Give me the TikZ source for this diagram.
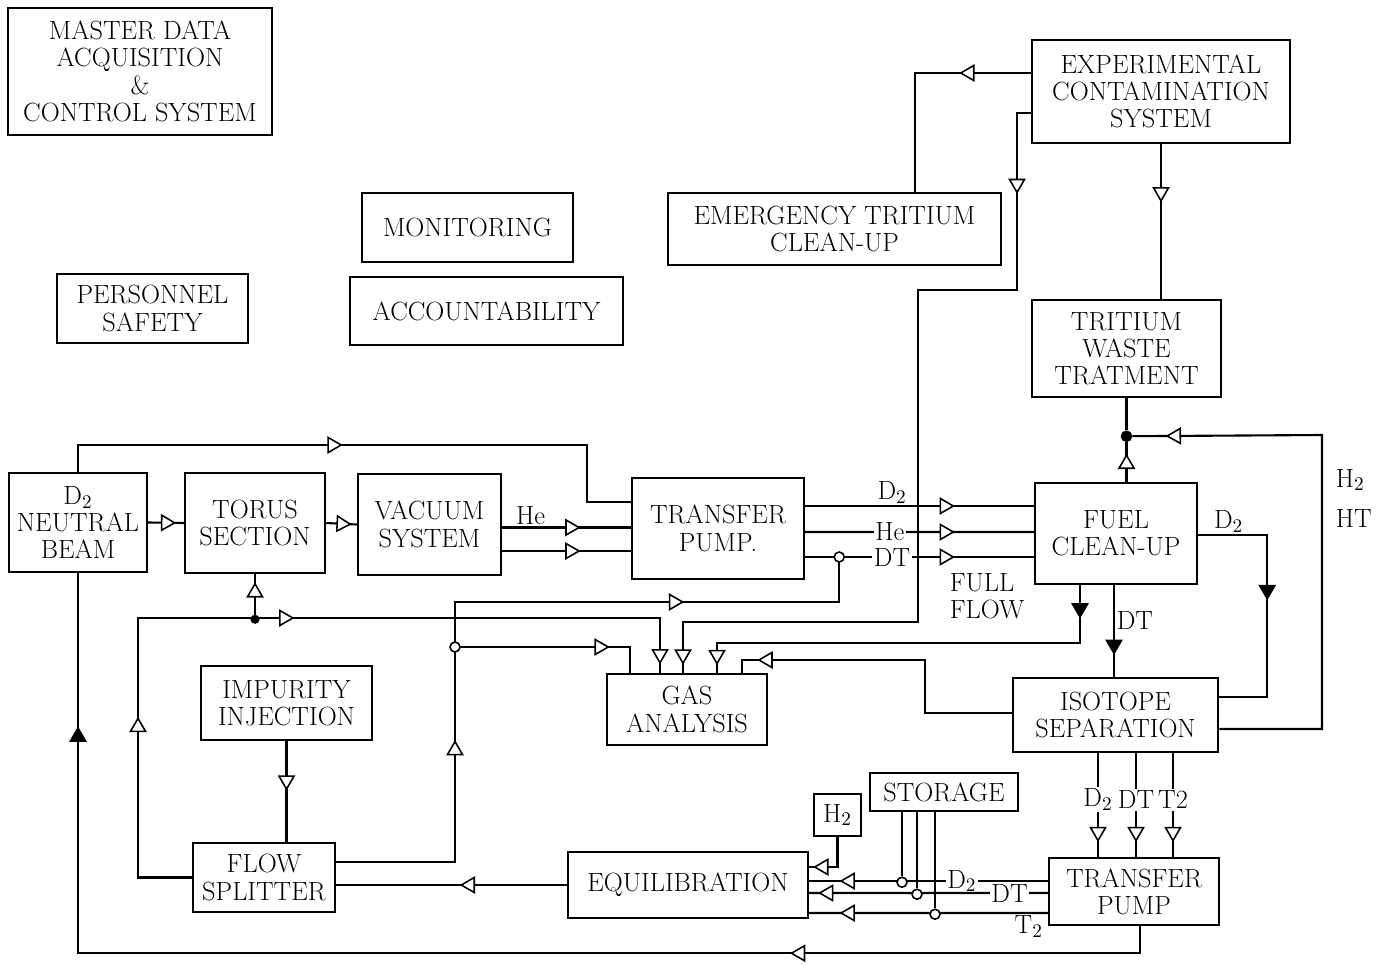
\documentclass[tikz,border=0pt]{standalone}
\usepackage{tikz}
\usetikzlibrary{positioning,calc,shapes.geometric}

\begin{document}
\begin{tikzpicture}[x=0.2mm, y=-0.2mm, line width=1.2pt,
    box/.style={draw, line width=1.4pt, align=center, inner sep=2pt,
        font=\fontsize{15}{15.5}\selectfont},
    sz/.style 2 args={minimum width=#1*0.2mm, minimum height=#2*0.2mm},
    lbl/.style={font=\fontsize{15}{15.5}\selectfont, inner sep=1pt},
    tip/.style={isosceles triangle, isosceles triangle apex angle=60, draw,
        fill=white, line width=0.9pt, inner sep=0pt, minimum height=2.6mm,
        sloped, allow upside down},
    tipf/.style={tip, fill=black},
    dot/.style={circle, draw, fill=white, line width=0.9pt, inner sep=0pt,
        minimum size=2mm}]
\useasboundingbox (0,0) rectangle (1379,964);

% === Stand-alone system boxes ===
\node[box, sz={264}{127}] (master)  at (140,71.5)  {MASTER DATA\\ACQUISITION\\\&\\CONTROL SYSTEM};
\node[box, sz={211}{69}]  (monit)   at (467.5,227.5) {MONITORING};
\node[box, sz={191}{69}]  (safety)  at (152.5,308.5) {PERSONNEL\\SAFETY};
\node[box, sz={273}{68}]  (account) at (486.5,311) {ACCOUNTABILITY};

% === Tritium handling ===
\node[box, sz={333}{72}]  (emerg) at (834.5,229)  {EMERGENCY TRITIUM\\CLEAN-UP};
\node[box, sz={258}{103}] (expc)  at (1161,91.5)  {EXPERIMENTAL\\CONTAMINATION\\SYSTEM};
\node[box, sz={189}{97}]  (waste) at (1126.5,348.5) {TRITIUM\\WASTE\\TRATMENT};

% === Fuel loop boxes ===
\node[box, sz={138}{99}]  (nbeam)  at (78,522.5)   {D$_2$\\NEUTRAL\\BEAM};
\node[box, sz={140}{100}] (torus)  at (255,523)    {TORUS\\SECTION};
\node[box, sz={143}{101}] (vac)    at (429.5,524.5) {VACUUM\\SYSTEM};
\node[box, sz={172}{101}] (tpump)  at (718,528.5)  {TRANSFER\\PUMP.};
\node[box, sz={162}{101}] (fuel)   at (1116,533.5) {FUEL\\CLEAN-UP};
\node[box, sz={160}{71}]  (gas)    at (687,709.5)  {GAS\\ANALYSIS};
\node[box, sz={171}{74}]  (impur)  at (286.5,703)  {IMPURITY\\INJECTION};
\node[box, sz={205}{74}]  (iso)    at (1115.5,715) {ISOTOPE\\SEPARATION};
\node[box, sz={142}{69}]  (split)  at (264,877.5)  {FLOW\\SPLITTER};
\node[box, sz={240}{66}]  (equil)  at (688,885)    {EQUILIBRATION};
\node[box, sz={47}{42}]   (htwo)   at (837.5,815)  {H$_2$};
\node[box, sz={148}{38}]  (store)  at (944,792)    {STORAGE};
\node[box, sz={170}{67}]  (tpumpb) at (1134,891.5) {TRANSFER\\PUMP};

% === Main line: beam -> torus -> vacuum -> pump -> fuel clean-up ===
\draw (nbeam.east) -- node[tip]{} (torus.west);
\draw (torus.east) -- node[tip]{} (vac.west);
\draw ($(vac.east)+(0,3)$) -- node[lbl, above, pos=0.22]{He} node[tip, pos=0.53]{} ($(tpump.west)+(0,-1)$);
\draw ($(vac.east)+(0,26.5)$) -- node[tip, pos=0.53]{} ($(tpump.west)+(0,22.5)$);
\draw (nbeam.north) |- node[tip, pos=0.75]{} (587,445) |- ($(tpump.west)+(0,-26.5)$);

\draw ($(tpump.east)+(0,-22.5)$) -- node[lbl, above, pos=0.38]{D$_2$} node[tip, pos=0.61]{} ($(fuel.west)+(0,-27.5)$);
\draw ($(tpump.east)+(0,3.5)$) -- node[lbl, fill=white, pos=0.37]{He} node[tip, pos=0.61]{} ($(fuel.west)+(0,-1.5)$);
\draw ($(tpump.east)+(0,28.5)$) -- node[lbl, fill=white, pos=0.38]{DT} node[tip, pos=0.61]{} ($(fuel.west)+(0,23.5)$);
\node[lbl, align=left] (fflow) at (987,596) {FULL\\FLOW};

% === Flow splitter returns ===
\draw ($(split.east)+(0,-15.5)$) -| node[tip, pos=0.715]{} (455,602) -| node[tip, pos=0.285]{} ($(tpump.east)+(34,28.5)$);
\node[dot] (j1) at ($(tpump.east)+(34,28.5)$) {};
\node[dot] (j2) at (455,647) {};
\draw (j2) -| node[tip, pos=0.41]{} ($(gas.north)+(-57,0)$);

\draw (split.west) -| node[tip, pos=0.79]{} (138,618) -| node[tip, pos=0.14]{} node[tip, pos=0.83]{} ($(gas.north)+(-27,0)$);
\node[dot, fill=black, minimum size=1.5mm] (j3) at ($(torus.south)+(0,45)$) {};
\draw (j3) -- node[tip, pos=0.55]{} (torus.south);

\draw (impur.south) -- node[tip, pos=0.39]{} (impur.south |- split.north);
\draw (equil.west) -- node[tip, pos=0.42]{} (equil.west -| split.east);

% === Contamination system ===
\draw ($(expc.west)+(0,-18.5)$) -| node[tip, pos=0.265]{} ($(emerg.north)+(80.5,0)$);
\draw ($(expc.west)+(0,21.5)$) -| node[tip, pos=0.7]{} (1017,290) -| (918,622) -| node[tip, pos=0.82]{} ($(gas.north)+(-4,0)$);
\draw (expc.south) -- node[tip, pos=0.31]{} (expc.south |- waste.north);

% === Fuel clean-up and isotope separation ===
\draw ($(fuel.south)+(-36,0)$) |- node[tipf, pos=0.2]{} (717,643) -- node[tip, pos=0.4]{} ($(gas.north)+(30,0)$);
\draw ($(iso.west)+(0,-2)$) -| (925,660) -| node[tip, pos=0.43]{} ($(gas.north)+(55,0)$);
\draw ($(fuel.south)+(-2,0)$) -- node[lbl, right, pos=0.38]{DT} node[tipf, pos=0.65]{} ($(iso.north)+(-1.5,0)$);
\draw ($(fuel.east)+(0,1.5)$) -| node[lbl, above, pos=0.22]{D$_2$} node[tipf, pos=0.67]{} ($(iso.east)+(48,-18)$) -- ($(iso.east)+(0,-18)$);

\node[dot, fill=black] (j4) at ($(waste.south)+(0,38)$) {};
\draw ($(iso.east)+(0,14)$) -| (1322,435) -- node[tip, pos=0.77]{} (j4);
\draw (fuel.north -| j4) -- node[tip, pos=0.45]{} (j4);
\draw (j4) -- (waste.south);
\node[lbl, anchor=west] (htwolbl) at (1333,480) {H$_2$};
\node[lbl, anchor=west] (htlbl)   at (1333,518) {HT};

\foreach \dx/\gasname in {-17.5/D$_2$, 20.5/DT, 57.5/T2} {
  \path ($(iso.south)+(\dx,0)$) coordinate (s);
  \draw (s) -- node[lbl, fill=white, pos=0.45]{\gasname} node[tip, pos=0.76]{} (s |- tpumpb.north);
}

% === Bottom pump -> equilibration, storage ===
\draw ($(tpumpb.west)+(0,-10.5)$) -- node[lbl, fill=white, pos=0.36]{D$_2$} node[tip, pos=0.83]{} ($(equil.east)+(0,-4)$);
\draw ($(tpumpb.west)+(0,1.5)$) -- node[lbl, fill=white, pos=0.16]{DT} node[tip, pos=0.92]{} ($(equil.east)+(0,8)$);
\draw ($(tpumpb.west)+(0,21.5)$) -- node[lbl, below, pos=0.08]{T$_2$} node[tip, pos=0.83]{} ($(equil.east)+(0,28)$);
\draw (htwo.south) |- node[tip, pos=0.75]{} ($(equil.east)+(0,-18)$);

\node[dot] (j5) at ($(store.south)+(-42,70)$) {};
\node[dot] (j6) at ($(store.south)+(-27,82)$) {};
\node[dot] (j7) at ($(store.south)+(-9,102)$) {};
\draw (j5 |- store.south) -- (j5);
\draw (j6 |- store.south) -- (j6);
\draw (j7 |- store.south) -- (j7);

% === Return to neutral beam ===
\draw ($(tpumpb.south)+(6,0)$) |- node[tip, pos=0.66]{} ($(nbeam.south)+(0,380)$) -- node[tipf, pos=0.57]{} (nbeam.south);

\end{tikzpicture}
\end{document}
